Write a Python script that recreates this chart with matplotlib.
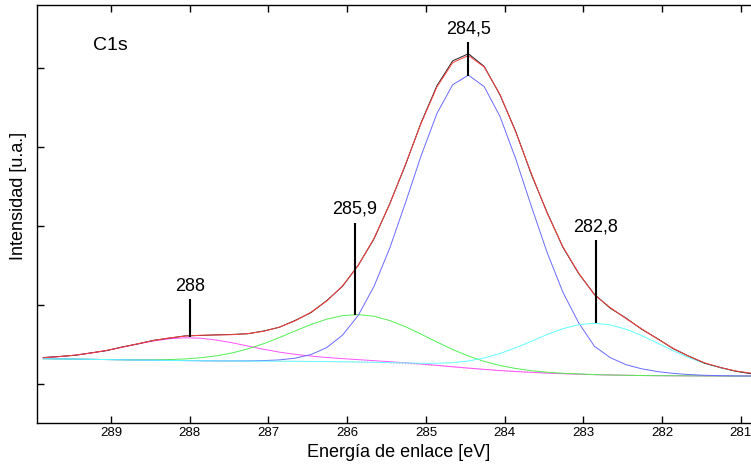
"""C1s XPS spectrum with fitted components."""

import matplotlib
matplotlib.use("Agg")
import matplotlib.pyplot as plt
import numpy as np

plt.rcParams["font.family"] = ["Liberation Sans", "DejaVu Sans"]

# binding energy grid (eV)
energy = [
    289.86, 289.66, 289.46, 289.26, 289.06, 288.86, 288.66, 288.46, 288.26, 288.06,
    287.86, 287.66, 287.46, 287.26, 287.06, 286.86, 286.66, 286.46, 286.26, 286.06,
    285.86, 285.66, 285.46, 285.26, 285.06, 284.86, 284.66, 284.46, 284.26, 284.06,
    283.86, 283.66, 283.46, 283.26, 283.06, 282.86, 282.66, 282.46, 282.26, 282.06,
    281.86, 281.66, 281.46, 281.26, 281.06, 280.86,
]

# Shirley-type background
background = [
    0.320, 0.318, 0.315, 0.312, 0.309, 0.306, 0.303, 0.300, 0.298, 0.296,
    0.294, 0.292, 0.291, 0.290, 0.289, 0.288, 0.287, 0.285, 0.283, 0.281,
    0.278, 0.273, 0.266, 0.257, 0.245, 0.231, 0.215, 0.199, 0.184, 0.170,
    0.158, 0.147, 0.138, 0.130, 0.124, 0.118, 0.114, 0.110, 0.107, 0.105,
    0.104, 0.103, 0.102, 0.101, 0.100, 0.100,
]

# fitted components, height above the background
peak_288 = [
    0.012, 0.028, 0.050, 0.079, 0.115, 0.158, 0.203, 0.244, 0.274, 0.289,
    0.285, 0.264, 0.230, 0.190, 0.150, 0.115, 0.088, 0.068, 0.052, 0.040,
    0.030, 0.022, 0.016, 0.011, 0.008, 0.005, 0.003, 0.002, 0.001, 0.0,
    0.0, 0.0, 0.0, 0.0, 0.0, 0.0, 0.0, 0.0, 0.0, 0.0,
    0.0, 0.0, 0.0, 0.0, 0.0, 0.0,
]
peak_2859 = [
    0.0, 0.0, 0.0, 0.0, 0.0, 0.001, 0.003, 0.006, 0.011, 0.021,
    0.038, 0.064, 0.102, 0.155, 0.221, 0.300, 0.385, 0.468, 0.537, 0.584,
    0.600, 0.584, 0.537, 0.468, 0.385, 0.300, 0.221, 0.155, 0.102, 0.064,
    0.038, 0.021, 0.011, 0.006, 0.003, 0.001, 0.0, 0.0, 0.0, 0.0,
    0.0, 0.0, 0.0, 0.0, 0.0, 0.0,
]
peak_2845 = [
    0.0, 0.0, 0.0, 0.0, 0.0, 0.0, 0.0, 0.0, 0.0, 0.0,
    0.0, 0.0, 0.001, 0.0025, 0.007, 0.017, 0.040, 0.087, 0.178, 0.336,
    0.590, 0.961, 1.452, 2.036, 2.647, 3.193, 3.573, 3.710, 3.580, 3.218,
    2.694, 2.100, 1.525, 1.031, 0.650, 0.360, 0.220, 0.135, 0.085, 0.052,
    0.030, 0.016, 0.008, 0.004, 0.002, 0.001,
]
peak_2828 = [
    0.0, 0.0, 0.0, 0.0, 0.0, 0.0, 0.0, 0.0, 0.0, 0.0,
    0.0, 0.0, 0.0, 0.0, 0.0, 0.0, 0.0, 0.0, 0.0, 0.0,
    0.0, 0.002, 0.004, 0.009, 0.017, 0.031, 0.055, 0.092, 0.145, 0.215,
    0.300, 0.394, 0.488, 0.570, 0.627, 0.650, 0.634, 0.584, 0.506, 0.414,
    0.318, 0.231, 0.158, 0.102, 0.062, 0.035,
]

# measured spectrum
measured = [
    0.335, 0.348, 0.362, 0.393, 0.421, 0.468, 0.507, 0.553, 0.580, 0.609,
    0.614, 0.622, 0.627, 0.636, 0.671, 0.718, 0.805, 0.903, 1.055, 1.236,
    1.503, 1.835, 2.281, 2.772, 3.310, 3.775, 4.090, 4.180, 4.020, 3.660,
    3.200, 2.650, 2.170, 1.730, 1.398, 1.135, 0.960, 0.835, 0.693, 0.575,
    0.447, 0.352, 0.263, 0.209, 0.160, 0.128,
]

# peak labels: position (eV), top and bottom of the marker line, label height
label_text = ["288", "285,9", "284,5", "282,8"]
label_energy = [288.0, 285.9, 284.46, 282.84]
label_top = [1.08, 2.04, 4.33, 1.82]
label_bottom = [0.595, 0.873, 3.90, 0.77]
label_y = [1.24, 2.21, 4.49, 1.99]

x_ticks = [289, 288, 287, 286, 285, 284, 283, 282, 281]
y_ticks = [0, 1, 2, 3, 4]

energy = np.array(energy)
background = np.array(background)
components = [
    (np.array(peak_288), "#ff50ff"),
    (np.array(peak_2859), "#50f050"),
    (np.array(peak_2845), "#6a6aff"),
    (np.array(peak_2828), "#60ffff"),
]
fit = background + sum(comp for comp, _ in components)

fig = plt.figure(figsize=(7.51, 4.68), dpi=100)
ax = fig.add_axes([37 / 751, 45 / 468, 718 / 751, 418 / 468])

line_width = 0.7
ax.plot(energy, background, color="#ff9090", linewidth=line_width, linestyle=(0, (1, 2)))
for comp, color in components:
    ax.plot(energy, background + comp, color=color, linewidth=line_width)
ax.plot(energy, measured, color="#202020", linewidth=line_width)
ax.plot(energy, fit, color="#ff4040", linewidth=line_width)

for text, xe, top, bottom, ty in zip(label_text, label_energy, label_top, label_bottom, label_y):
    ax.plot([xe, xe], [bottom, top], color="black", linewidth=1.5, solid_capstyle="butt")
    ax.text(xe, ty, text, ha="center", va="center", fontsize=13)

ax.text(0.1017, 0.902, "C1s", transform=ax.transAxes, ha="center", va="center", fontsize=14)

ax.set_xlim(289.94, 280.82)
ax.set_ylim(-0.494, 4.797)
ax.set_xticks(x_ticks)
ax.set_xticklabels([str(t) for t in x_ticks], fontsize=9.5)
ax.set_yticks(y_ticks)
ax.set_yticklabels([])
ax.tick_params(axis="x", direction="in", length=5, width=1, pad=3.2, top=True)
ax.tick_params(axis="y", direction="in", length=5, width=1, left=True, right=False)
for spine in ax.spines.values():
    spine.set_linewidth(1.0)

ax.set_xlabel("Energía de enlace [eV]", fontsize=13)
ax.xaxis.set_label_coords(0.503, -0.071)
ax.xaxis.label.set_va("center")
ax.set_ylabel("Intensidad [u.a.]", fontsize=13)
ax.yaxis.set_label_coords(-0.026, 0.543)
ax.yaxis.label.set_va("center")

fig.savefig("out.png", dpi=100)
